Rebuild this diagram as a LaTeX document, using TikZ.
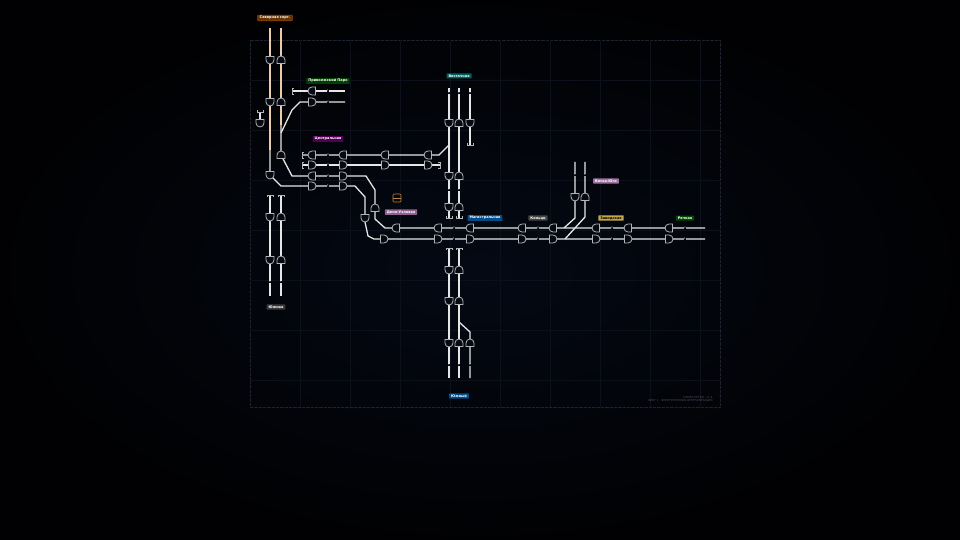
\documentclass[tikz,border=0pt]{standalone}
\usepackage{fontspec}
\setmainfont{DejaVu Sans}
\usetikzlibrary{positioning}
\definecolor{bg}{HTML}{040914}
\definecolor{trk}{HTML}{E6E6E6}
\definecolor{sigc}{HTML}{B4B4B4}
\tikzset{
  track/.style={draw=trk, line width=1.3pt},
  otrack/.style={draw=trk!75!orange, line width=1.3pt},
  sig/.pic={\draw[sigc, line width=0.8pt, fill=bg] (-3.5,-4) -- (0,-4) arc(-90:90:4) -- (-3.5,4) -- cycle;},
  buf/.style={draw=sigc, line width=0.6pt},
  tag/.style={font=\fontsize{3.5}{4}\selectfont\bfseries, text=white, inner xsep=2pt, inner ysep=1.2pt, rounded corners=0.5pt},
  km/.style={font=\fontsize{2.5}{3}\selectfont, text=trk, fill=bg, inner sep=0.5pt}
}
\begin{document}
\begin{tikzpicture}[x=1pt, y=-1pt]
\fill[black] (0,0) rectangle (960,540);
\shade[inner color=bg, outer color=black!85!bg] (0,0) rectangle (960,540);
% grid frame
\draw[white!10!bg, densely dotted, line width=0.3pt] (250,40) rectangle (720,407);
\foreach \gx in {300,350,...,700} \draw[white!3!bg, line width=0.2pt] (\gx,40) -- (\gx,407);
\foreach \gy in {80,130,...,400} \draw[white!3!bg, line width=0.2pt] (250,\gy) -- (720,\gy);

% left pair, north
\draw[otrack] (270,28) -- (270,150);
\draw[otrack] (281,28) -- (281,125);
\draw[track] (270,150) -- (270,175) -- (281,186) -- (355,186) -- (365,197) -- (365,222) -- (368,236) -- (374,239) -- (705,239);
\draw[track] (281,125) -- (281,155) -- (292,176) -- (366,176) -- (375,190) -- (375,219) -- (385,228) -- (705,228);
\draw[track] (281,133) -- (292,110) -- (300,102) -- (345,102);
\draw[track] (292,91) -- (345,91);
\draw[track] (260,112) -- (260,123);
% yards
\draw[track] (302,155) -- (439,155) -- (449,145);
\draw[track] (302,165) -- (440,165);
% central column
\draw[track] (449,88) -- (449,218);
\draw[track] (459,88) -- (459,218);
\draw[track] (470,88) -- (470,145);
\draw[track] (449,248) -- (449,378);
\draw[track] (459,248) -- (459,378);
\draw[track] (459,322) -- (470,332) -- (470,378);
% east branch
\draw[track] (575,162) -- (575,218) -- (564,228);
\draw[track] (585,162) -- (585,217) -- (565,239);
% south-west pair
\draw[track] (270,195) -- (270,296);
\draw[track] (281,195) -- (281,296);

% buffers
\foreach \bx/\by in {292/91,302/155,302/165} \draw[buf] (\bx+2,\by-3) -- (\bx,\by-3) -- (\bx,\by+3) -- (\bx+2,\by+3);
\draw[buf] (438,162) -- (440,162) -- (440,168) -- (438,168);
\foreach \bx/\by in {270/195,281/195,449/248,459/248} \draw[buf] (\bx-3,\by+2) -- (\bx-3,\by) -- (\bx+3,\by) -- (\bx+3,\by+2);
\foreach \bx/\by in {449/218,459/218,470/145,260/112} \draw[buf] (\bx-3,\by-2) -- (\bx-3,\by) -- (\bx+3,\by) -- (\bx+3,\by-2);

% signals
\foreach \sx/\sy in {270/60,270/102,270/175,260/123,449/123,470/123,449/176,449/207,270/217,270/260,449/270,449/301,449/343,365/218,575/197}
  \pic[rotate=-90] at (\sx,\sy) {sig};
\foreach \sx/\sy in {281/60,281/102,281/155,459/123,459/176,459/207,281/217,281/260,459/270,459/301,459/343,470/343,375/208,585/197}
  \pic[rotate=90] at (\sx,\sy) {sig};
\foreach \sx in {396,438,470,522,553,596,628,669} \pic[rotate=180] at (\sx,228) {sig};
\foreach \sx in {384,438,470,522,553,596,628,669} \pic at (\sx,239) {sig};
\foreach \sx/\sy in {312/91,312/155,343/155,385/155,428/155,312/176} \pic[rotate=180] at (\sx,\sy) {sig};
\foreach \sx/\sy in {312/102,312/165,343/165,385/165,428/165,312/186,343/186,343/176} \pic at (\sx,\sy) {sig};

% km marks
\foreach \kx/\ky/\kt in {328/91/1,328/102/2,328/155/4,328/165/3,328/176/2,328/186/1,454/228/2,454/239/1,538/228/2,538/239/1,612/228/2,612/239/1,685/228/2,685/239/1}
  \node[km] at (\kx,\ky) {\kt};
\foreach \kx/\ky/\kt in {449/93/1,459/93/2,470/93/3,449/190/1,459/190/2,449/365/1,459/365/2,470/365/3,270/282/2,281/282/1,575/175/1,585/175/2}
  \node[km] at (\kx,\ky) {\kt};

% depot icon
\draw[orange!50!gray, line width=0.6pt, rounded corners=1pt] (393,194) rectangle (401,202);
\draw[orange!50!gray, line width=0.5pt] (393,198) -- (401,198);

% station tags
\node[tag, fill=orange!40!black, draw=orange!60!black] (stN) at (275,18) {Северная сорт.};
\node[tag, fill=green!25!black] (stP) at (328,81) {Приволжский Парк};
\node[tag, fill=violet!65!black] (stY) at (328,139) {Центральная};
\node[tag, fill=teal!75!black] (stV) at (459,76) {Восточная};
\node[tag, fill=violet!50!white!75!black] (stD) at (401,212) {Депо-Узловая};
\node[tag, fill=blue!45!cyan!55!black] (stM) at (485,218) {Магистральная};
\node[tag, fill=gray!55!black] (stK) at (538,218) {Кольцо};
\node[tag, fill=violet!45!white!80!black] (stE) at (606,181) {Ветка-Юго};
\node[tag, fill=yellow!45!brown!85!black, text=black] (stZ) at (611,218) {Заводская};
\node[tag, fill=green!30!black] (stR) at (685,218) {Речная};
\node[tag, fill=gray!45!black] (stU) at (276,307) {Южная};
\node[tag, fill=blue!45!cyan!55!black] (stS) at (459,396) {Южный};
\node[font=\fontsize{2.8}{3}\selectfont, text=gray!60!bg, align=right, anchor=east] (foot) at (716,399) {СХЕМА ПУТЕЙ · v1.3\\ ЛИСТ 1 · ЭЛЕКТРИЧЕСКАЯ ЦЕНТРАЛИЗАЦИЯ};
\end{tikzpicture}
\end{document}
